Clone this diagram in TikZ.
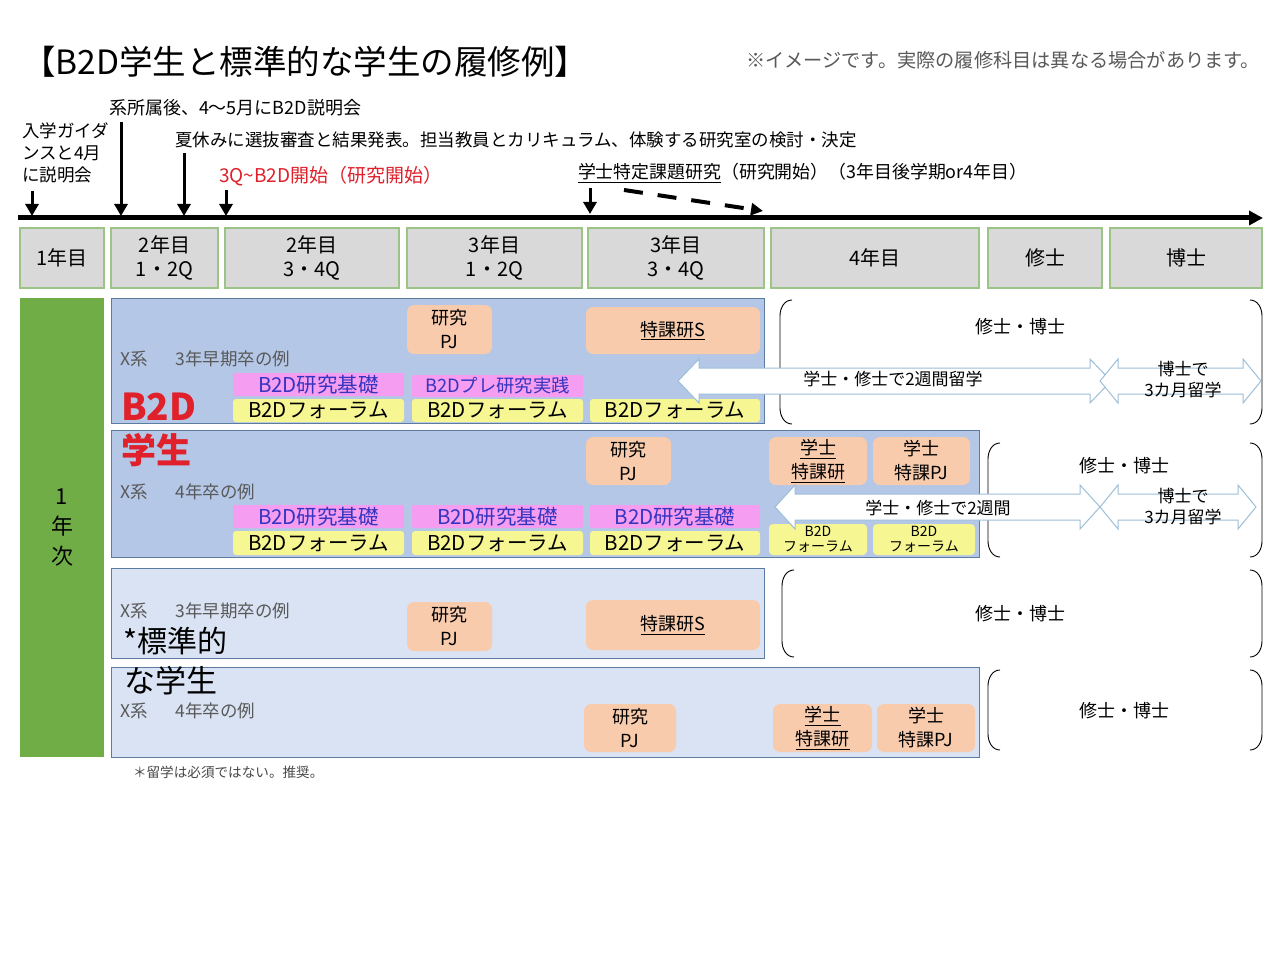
\documentclass[tikz,border=0pt]{standalone}
\usepackage{fontspec}
\setmainfont{Noto Sans CJK JP}
\usetikzlibrary{arrows.meta}
\definecolor{hdrfill}{HTML}{D9D9D9}
\definecolor{hdrline}{HTML}{9CC486}
\definecolor{grn}{HTML}{70AD47}
\definecolor{blkA}{HTML}{B4C7E7}
\definecolor{blkB}{HTML}{DAE3F3}
\definecolor{blkline}{HTML}{5B7BA0}
\definecolor{orng}{HTML}{F8CBAD}
\definecolor{pnk}{HTML}{F59DF0}
\definecolor{pnktext}{HTML}{3535C0}
\definecolor{ylw}{HTML}{F6F692}
\definecolor{redtxt}{HTML}{E0202A}
\definecolor{arrline}{HTML}{9DBFD8}
\definecolor{graytxt}{HTML}{595959}
\newcommand\mkbox[7]{\node[#1, minimum width={(#4-#2)*1pt}, minimum height={(#5-#3)*1pt}] (#6) at ({(#2+#4)/2},{(#3+#5)/2}) {#7};}
\newcommand\mkdbl[7]{% name, xl, xr, ymid, bodyhalf, headhalf, headlen
  \draw[dbl] (#2,#4) coordinate (#1l) -- ({#2+#7},{#4-#6}) -- ({#2+#7},{#4-#5}) -- ({#3-#7},{#4-#5}) -- ({#3-#7},{#4-#6}) -- (#3,#4) coordinate (#1r) -- ({#3-#7},{#4+#6}) -- ({#3-#7},{#4+#5}) -- ({#2+#7},{#4+#5}) -- ({#2+#7},{#4+#6}) -- cycle;}
\tikzset{
  tx/.style={inner sep=0pt, outer sep=0pt, align=center},
  hdr/.style={draw=hdrline, fill=hdrfill, line width=1.2pt, inner sep=0pt, align=center, font=\fontsize{20}{24}\selectfont},
  grnbox/.style={fill=grn, inner sep=0pt, align=center, font=\fontsize{22}{30}\selectfont},
  blockA/.style={draw=blkline, fill=blkA, line width=1pt, inner sep=0pt},
  blockB/.style={draw=blkline, fill=blkB, line width=1pt, inner sep=0pt},
  orbox/.style={fill=orng, rounded corners=7pt, inner sep=0pt, align=center, font=\fontsize{18}{24}\selectfont},
  pkbox/.style={fill=pnk, rounded corners=2pt, inner sep=0pt, text=pnktext, font=\fontsize{20.5}{22}\selectfont},
  ywbox/.style={fill=ylw, rounded corners=3pt, inner sep=0pt, font=\fontsize{20.5}{22}\selectfont},
  ywsmall/.style={fill=ylw, rounded corners=4pt, inner sep=0pt, align=center, font=\fontsize{14}{15}\selectfont},
  brk/.style={draw=black, line width=0.9pt},
  dbl/.style={draw=arrline, fill=white, line width=1pt},
  downarr/.style={line width=3pt, -{Triangle[length=12pt,width=13pt]}},
  xlab/.style={tx, anchor=west, text=graytxt, font=\fontsize{17.5}{20}\selectfont},
  bigred/.style={tx, anchor=west, text=redtxt, font=\fontsize{35}{38}\selectfont\bfseries},
  bigblk/.style={tx, anchor=west, font=\fontsize{30}{32}\selectfont},
  f17/.style={tx, font=\fontsize{17}{21}\selectfont},
  ms/.style={tx, font=\fontsize{18}{22}\selectfont},
}
\begin{document}
\begin{tikzpicture}[x=1pt, y=-1pt]
\useasboundingbox (0,0) rectangle (1280,960);
\fill[white] (0,0) rectangle (1280,960);

% title and note
\node[tx, anchor=west, font=\fontsize{33.5}{38}\selectfont] (title) at (22,62) {【B2D学生と標準的な学生の履修例】};
\node[tx, anchor=west, text=graytxt, font=\fontsize{19.2}{22}\selectfont] (caveat) at (746,60) {※イメージです。実際の履修科目は異なる場合があります。};

% timeline
\coordinate (tl0) at (18,218);
\coordinate (tl1) at (1263,218);
\draw[line width=5pt, -{Triangle[length=14pt,width=14pt]}] (tl0) -- (tl1);

% event labels
\node[f17, anchor=north west, align=left, font=\fontsize{17.5}{22}\selectfont] (ev1) at (22,123) {入学ガイダ\\ンスと4月\\に説明会};
\node[f17, anchor=west, font=\fontsize{18}{20}\selectfont] (ev2) at (109,108) {系所属後、4～5月にB2D説明会};
\node[f17, anchor=west, font=\fontsize{17.5}{21}\selectfont] (ev3) at (175,140) {夏休みに選抜審査と結果発表。担当教員とカリキュラム、体験する研究室の検討・決定};
\node[f17, anchor=west, text=redtxt, font=\fontsize{19}{21}\selectfont] (ev4) at (219,176) {3Q\textasciitilde B2D開始（研究開始）};
\node[f17, anchor=west, font=\fontsize{17.9}{21}\selectfont] (ev5) at (578,173) {\underline{学士特定課題研究}（研究開始）（3年目後学期or4年目）};

\coordinate (a1s) at (32,191);  \coordinate (a1e) at (32,216);
\coordinate (a2s) at (121,122); \coordinate (a2e) at (121,216);
\coordinate (a3s) at (184,153); \coordinate (a3e) at (184,216);
\coordinate (a4s) at (226,190); \coordinate (a4e) at (226,216);
\coordinate (a5s) at (590,188); \coordinate (a5e) at (590,214);
\draw[downarr] (a1s) -- (a1e);
\draw[downarr] (a2s) -- (a2e);
\draw[downarr] (a3s) -- (a3e);
\draw[downarr] (a4s) -- (a4e);
\draw[downarr] (a5s) -- (a5e);
\coordinate (d5s) at (624,190); \coordinate (d5e) at (763,211);
\draw[line width=4pt, dash pattern=on 19pt off 15pt, -{Triangle[length=12pt,width=12pt]}] (d5s) -- (d5e);

% header row
\mkbox{hdr}{20}{228}{104}{288}{h1}{1年目}
\mkbox{hdr}{111}{228}{218}{288}{h2}{2年目\\1・2Q}
\mkbox{hdr}{225}{228}{399}{288}{h3}{2年目\\3・4Q}
\mkbox{hdr}{407}{228}{582}{288}{h4}{3年目\\1・2Q}
\mkbox{hdr}{588}{228}{764}{288}{h5}{3年目\\3・4Q}
\mkbox{hdr}{771}{228}{979}{288}{h6}{4年目}
\mkbox{hdr}{988}{228}{1102}{288}{h7}{修士}
\mkbox{hdr}{1110}{228}{1262}{288}{h8}{博士}

% green column
\mkbox{grnbox}{20}{298}{104}{757}{g}{1\\年\\次}

% blocks
\mkbox{blockA}{111}{298}{764}{423}{bA1}{}
\mkbox{blockA}{111}{430}{979}{557}{bA2}{}
\mkbox{blockB}{111}{568}{764}{658}{bB1}{}
\mkbox{blockB}{111}{667}{979}{757}{bB2}{}

% block 1 (B2D, 3-year)
\mkbox{orbox}{407}{305}{492}{354}{o1}{研究\\PJ}
\mkbox{orbox}{586}{307}{760}{354}{o2}{\underline{特課研S}}
\node[xlab] (x1) at (120,359) {X系\hspace{1.6em}3年早期卒の例};
\mkbox{pkbox}{233}{373}{404}{396}{p1}{B2D研究基礎}
\mkbox{pkbox, font=\fontsize{18.3}{20}\selectfont}{412}{375}{583}{397}{p2}{B2Dプレ研究実践}
\mkbox{ywbox}{233}{399}{404}{422}{y1}{B2Dフォーラム}
\mkbox{ywbox}{412}{399}{583}{422}{y2}{B2Dフォーラム}
\mkbox{ywbox}{590}{399}{760}{422}{y3}{B2Dフォーラム}
\node[bigred, font=\fontsize{37}{40}\selectfont\bfseries] (lb1) at (121,407) {B2D};

% block 2 (B2D, 4-year)
\node[bigred] (lb2) at (121,450) {学生};
\mkbox{orbox}{586}{437}{671}{485}{o3}{研究\\PJ}
\mkbox{orbox}{769}{437}{867}{485}{o4}{\underline{学士}\\\underline{特課研}}
\mkbox{orbox}{873}{437}{970}{485}{o5}{学士\\特課PJ}
\node[xlab] (x2) at (120,492) {X系\hspace{1.6em}4年卒の例};
\mkbox{pkbox}{233}{505}{404}{528}{p3}{B2D研究基礎}
\mkbox{pkbox}{412}{505}{583}{528}{p4}{B2D研究基礎}
\mkbox{pkbox}{590}{505}{760}{528}{p5}{B2D研究基礎}
\mkbox{ywbox}{233}{531}{404}{555}{y4}{B2Dフォーラム}
\mkbox{ywbox}{412}{531}{583}{555}{y5}{B2Dフォーラム}
\mkbox{ywbox}{590}{531}{760}{555}{y6}{B2Dフォーラム}
\mkbox{ywsmall}{769}{524}{867}{555}{y7}{B2D\\フォーラム}
\mkbox{ywsmall}{873}{524}{975}{555}{y8}{B2D\\フォーラム}

% block 3 (standard, 3-year)
\node[xlab] (x3) at (120,611) {X系\hspace{1.6em}3年早期卒の例};
\mkbox{orbox}{407}{602}{492}{651}{o6}{研究\\PJ}
\mkbox{orbox}{586}{600}{760}{650}{o7}{\underline{特課研S}}
\node[bigblk] (lb3) at (123,641) {*標準的};

% block 4 (standard, 4-year)
\node[bigblk, font=\fontsize{31}{34}\selectfont] (lb4) at (124,681) {な学生};
\node[xlab] (x4) at (120,711) {X系\hspace{1.6em}4年卒の例};
\mkbox{orbox}{584}{704}{676}{752}{o8}{研究\\PJ}
\mkbox{orbox}{773}{704}{872}{752}{o9}{\underline{学士}\\\underline{特課研}}
\mkbox{orbox}{877}{704}{975}{752}{o10}{学士\\特課PJ}

% brackets (graduate studies)
\draw[brk] (792,300) to[out=180,in=90] (780,316) -- (780,408) to[out=-90,in=180] (792,424);
\draw[brk] (1250,300) to[out=0,in=90] (1262,316) -- (1262,408) to[out=-90,in=0] (1250,424);
\node[ms] (m1) at (1020,327) {修士・博士};
\draw[brk] (1000,443) to[out=180,in=90] (988,459) -- (988,541) to[out=-90,in=180] (1000,557);
\draw[brk] (1250,443) to[out=0,in=90] (1262,459) -- (1262,541) to[out=-90,in=0] (1250,557);
\node[ms] (m2) at (1124,466) {修士・博士};
\draw[brk] (794,570) to[out=180,in=90] (782,586) -- (782,641) to[out=-90,in=180] (794,657);
\draw[brk] (1250,570) to[out=0,in=90] (1262,586) -- (1262,641) to[out=-90,in=0] (1250,657);
\node[ms] (m3) at (1020,614) {修士・博士};
\draw[brk] (1000,670) to[out=180,in=90] (988,686) -- (988,734) to[out=-90,in=180] (1000,750);
\draw[brk] (1250,670) to[out=0,in=90] (1262,686) -- (1262,734) to[out=-90,in=0] (1250,750);
\node[ms] (m4) at (1124,711) {修士・博士};

% study-abroad double arrows
\mkdbl{sa1}{678}{1111}{381}{13}{22}{21}
\mkdbl{sb1}{1100}{1261}{381}{13}{22}{18}
\node[f17] (t1) at (893,379) {学士・修士で2週間留学};
\node[f17] (t2) at (1183,380) {博士で\\3カ月留学};
\mkdbl{sa2}{775}{1100}{507}{13}{22}{20}
\mkdbl{sb2}{1100}{1256}{507}{13}{22}{18}
\node[f17] (t3) at (938,508) {学士・修士で2週間};
\node[f17] (t4) at (1183,507) {博士で\\3カ月留学};

% footnote
\node[tx, anchor=west, text=graytxt!80!black, font=\fontsize{13.6}{15}\selectfont] (fn) at (133,772) {＊留学は必須ではない。推奨。};
\end{tikzpicture}
\end{document}
